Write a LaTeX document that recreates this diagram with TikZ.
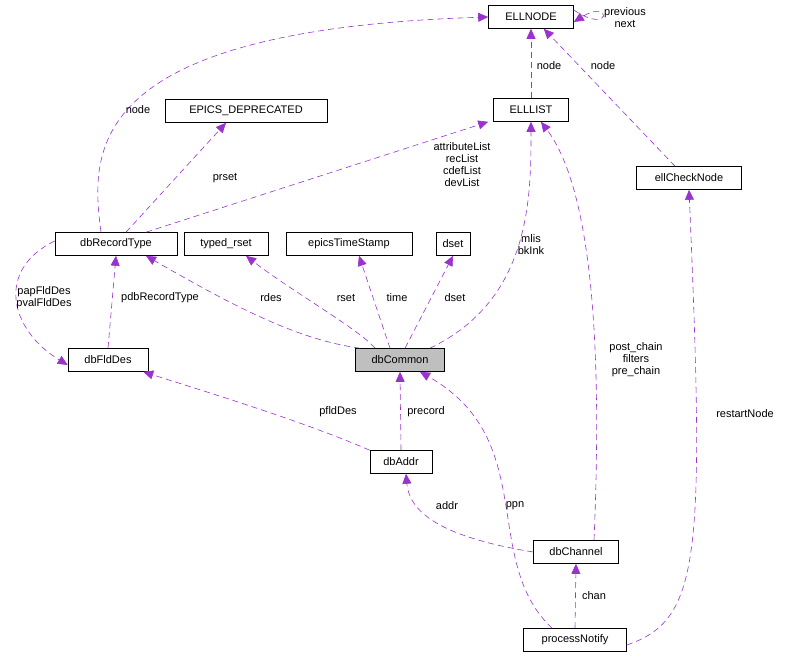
\documentclass[tikz,border=0pt]{standalone}
\usepackage{fontspec}
\setmainfont{Liberation Sans}
\usetikzlibrary{arrows.meta}
\definecolor{orch}{HTML}{9A32CD}
\begin{document}
\begin{tikzpicture}[x=1pt,y=-1pt,
  box/.style={draw,semithick,minimum height=23pt,inner xsep=4pt,font=\fontsize{11}{12}\selectfont,fill=white},
  lab/.style={font=\fontsize{11}{12}\selectfont,align=center,inner sep=1pt},
  e/.style={draw=orch,semithick,dash pattern=on 6pt off 4pt,-{Triangle[length=10pt,width=9pt,fill=orch]}}]
\useasboundingbox (0,0) rectangle (785,661);
\node[box,minimum width=85pt] (ellnode) at (531,17) {ELLNODE};
\node[box,minimum width=162pt] (epics) at (246,111) {EPICS\_DEPRECATED};
\node[box,minimum width=75pt] (elllist) at (531,110) {ELLLIST};
\node[box,minimum width=105pt] (check) at (689,178) {ellCheckNode};
\node[box,minimum width=122pt] (rt) at (116,244) {dbRecordType};
\node[box,minimum width=84pt] (rset) at (226,244) {typed\_rset};
\node[box,minimum width=126pt] (ts) at (349,244) {epicsTimeStamp};
\node[box,minimum width=34pt] (dset) at (453,244) {dset};
\node[box,minimum width=89pt,fill=black!25] (dbc) at (400,360) {dbCommon};
\node[box,minimum width=80pt] (fld) at (108,360) {dbFldDes};
\node[box,minimum width=62pt] (addr) at (401,462) {dbAddr};
\node[box,minimum width=85pt] (chan) at (576,552) {dbChannel};
\node[box,minimum width=103pt] (pn) at (575,640) {processNotify};

\draw[e] ([xshift=-15pt]rt.north) .. controls (90,150) and (85,30) .. (ellnode.west);
\node[lab] at (138,110) {node};
\draw[e,draw=orch] (elllist.north) -- (ellnode.south);
\node[lab] at (549,66) {node};
\draw[e] ([xshift=-14pt]check.north) -- ([xshift=-30pt]ellnode.south east);
\node[lab] at (603,66) {node};
\draw[e] ([yshift=7pt]ellnode.east) .. controls (612,36) and (612,-2) .. ([yshift=-5pt]ellnode.east);
\node[lab] at (625,18) {previous\\next};
\draw[e] ([xshift=10pt]rt.north) -- ([xshift=-20pt]epics.south);
\node[lab] at (225,178) {prset};
\draw[e] ([xshift=30pt]rt.north) -- ([xshift=-5pt]elllist.south west);
\node[lab] at (462,165) {attributeList\\recList\\cdefList\\devList};
\draw[e] (fld.north) -- (rt.south);
\node[lab] at (160,298) {pdbRecordType};
\draw[e] ([yshift=3pt]rt.west) .. controls (-5,270) and (10,330) .. ([yshift=-5pt]fld.west);
\node[lab] at (44,298) {papFldDes\\pvalFldDes};
\draw[e] ([xshift=-40pt]dbc.north) .. controls (300,340) and (240,310) .. ([xshift=30pt]rt.south);
\node[lab] at (271,298) {rdes};
\draw[e] ([xshift=-25pt]dbc.north) .. controls (360,330) and (290,290) .. ([xshift=20pt]rset.south);
\node[lab] at (346,298) {rset};
\draw[e] ([xshift=-10pt]dbc.north) -- ([xshift=10pt]ts.south);
\node[lab] at (397,298) {time};
\draw[e] ([xshift=5pt]dbc.north) -- (dset.south);
\node[lab] at (455,298) {dset};
\draw[e] ([xshift=30pt]dbc.north) .. controls (530,300) and (531,200) .. (elllist.south);
\node[lab] at (531,245) {mlis\\bkInk};
\draw[e] (addr.north west) .. controls (300,420) and (200,390) .. ([xshift=-5pt]fld.south east);
\node[lab] at (338,412) {pfldDes};
\draw[e] (addr.north) -- (dbc.south);
\node[lab] at (426,412) {precord};
\draw[e] (chan.west) .. controls (460,540) and (410,520) .. ([xshift=5pt]addr.south);
\node[lab] at (447,506) {addr};
\draw[e] ([xshift=18pt]chan.north) .. controls (600,400) and (600,200) .. ([xshift=10pt]elllist.south);
\node[lab] at (636,360) {post\_chain\\filters\\pre\_chain};
\draw[e] ([xshift=-23pt]pn.north) .. controls (480,560) and (540,440) .. ([xshift=20pt]dbc.south);
\node[lab] at (515,506) {ppn};
\draw[e] (pn.north) -- (chan.south);
\node[lab] at (594,596) {chan};
\draw[e] ([yshift=-5pt]pn.east) .. controls (700,620) and (705,560) .. (check.south);
\node[lab] at (745,414) {restartNode};
\end{tikzpicture}
\end{document}
